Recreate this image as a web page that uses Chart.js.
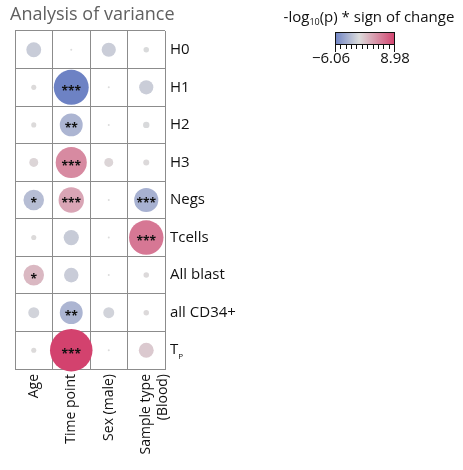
<!DOCTYPE html>
<html><head><meta charset="utf-8">
<script src="https://cdn.jsdelivr.net/npm/chart.js@4"></script>
<style>html,body{margin:0;padding:0;background:#fff}#wrap{width:463px;height:470px}</style>
</head><body><div id="wrap"><canvas id="c" width="463" height="470"></canvas></div>
<script>
// ---- data ----
const rowLabels = ['H0','H1','H2','H3','Negs','Tcells','All blast','all CD34+','T_P'];
const colLabels = ['Age','Time point','Sex (male)','Sample type (Blood)'];
const colTickLines = [['Age'],['Time point'],['Sex (male)'],['Sample type','(Blood)']];
const ageValues    = [-1.1, 0.13, 0.13, 0.4, -2.1, 0.13, 2.1, -0.6, 0.13];
const timeValues   = [0.02, -6.06, -2.6, 4.8, 3.2, -1.15, -1.05, -2.6, 8.98];
const sexValues    = [-1.0, 0.02, 0.02, 0.4, 0.02, 0.02, 0.02, -0.6, 0.02];
const sampleValues = [-0.15, -1.0, -0.2, 0.18, -2.9, 5.9, 0.15, 0.15, 1.1];
const ageStars    = ['','','','','*','','*','',''];
const timeStars   = ['','***','**','***','***','','','**','***'];
const sexStars    = ['','','','','','','','',''];
const sampleStars = ['','','','','***','***','','',''];
const scaleMin = -6.06, scaleMax = 8.98;
const legendTitle = '-log';
const legendTickLabels = ['\u22126.06','8.98'];

const columns = [ageValues, timeValues, sexValues, sampleValues];
const starCols = [ageStars, timeStars, sexStars, sampleStars];

const FONT = "'Open Sans', 'Noto Sans', sans-serif";
const BLUE = [109,130,196], GREY = [220,220,220], RED = [211,66,110];
function mix(a,b,t){return a.map((v,i)=>Math.round(v+(b[i]-v)*t));}
function colorFor(v){
  let c = v < 0 ? mix(GREY, BLUE, Math.min(1, v/scaleMin)) : mix(GREY, RED, Math.min(1, v/scaleMax));
  return 'rgb('+c.join(',')+')';
}

const points = [];
columns.forEach((vals, j) => vals.forEach((v, i) => points.push({x: colLabels[j], y: rowLabels[i], v: v, s: starCols[j][i]})));

const noPad = () => ({left: 0, top: 0, right: 0, bottom: 0});

const extras = {
  id: 'extras',
  afterDraw(chart) {
    const ctx = chart.ctx;
    ctx.save();
    // title
    ctx.fillStyle = '#606060';
    ctx.font = '18px ' + FONT;
    ctx.textAlign = 'left'; ctx.textBaseline = 'alphabetic';
    ctx.fillText('Analysis of variance', 10, 20);
    // stars
    const meta = chart.getDatasetMeta(0);
    ctx.fillStyle = '#111';
    ctx.font = 'bold 12px ' + FONT;
    ctx.textAlign = 'center'; ctx.textBaseline = 'middle';
    meta.data.forEach((el, k) => {
      const s = points[k].s;
      if (s) ctx.fillText(s, el.x, el.y + 4);
    });
    // subscript for T_P
    const ys = chart.scales.y;
    const tpIdx = rowLabels.indexOf('T_P');
    const yp = ys.getPixelForValue(tpIdx);
    ctx.font = '15px ' + FONT;
    const tw = ctx.measureText('T').width;
    ctx.font = '8px ' + FONT;
    ctx.textAlign = 'left'; ctx.textBaseline = 'alphabetic';
    ctx.fillText('P', chart.chartArea.right + 5 + tw, yp + 9);
    // legend
    const lx0 = 335, lx1 = 395, ly0 = 32, ly1 = 45;
    const g = ctx.createLinearGradient(lx0, 0, lx1, 0);
    const zero = -scaleMin / (scaleMax - scaleMin);
    g.addColorStop(0, colorFor(scaleMin));
    g.addColorStop(zero, colorFor(0));
    g.addColorStop(1, colorFor(scaleMax));
    ctx.fillStyle = g;
    ctx.fillRect(lx0, ly0, lx1 - lx0, ly1 - ly0);
    ctx.strokeStyle = '#111'; ctx.lineWidth = 1;
    ctx.strokeRect(lx0 + 0.5, ly0 + 0.5, lx1 - lx0 - 1, ly1 - ly0 - 1);
    const nT = 11;
    for (let k = 0; k <= nT; k++) {
      const x = Math.round(lx0 + (lx1 - lx0 - 1) * k / nT) + 0.5;
      const len = (k === 0 || k === nT) ? 6 : 3;
      ctx.beginPath(); ctx.moveTo(x, ly1); ctx.lineTo(x, ly1 + len + 1); ctx.stroke();
    }
    ctx.fillStyle = '#111';
    ctx.font = '15px ' + FONT;
    ctx.textAlign = 'center'; ctx.textBaseline = 'alphabetic';
    ctx.fillText(legendTickLabels[0], lx0 - 4, 63);
    ctx.fillText(legendTickLabels[1], lx1, 63);
    // legend title with subscript
    ctx.font = '15px ' + FONT;
    const p1 = legendTitle, p2 = '10', p3 = '(p) * sign of change';
    const w1 = ctx.measureText(p1).width, w3 = ctx.measureText(p3).width;
    ctx.font = '9px ' + FONT;
    const w2 = ctx.measureText(p2).width;
    const total = w1 + w2 + w3;
    let x = 369 - total / 2;
    ctx.textAlign = 'left';
    ctx.font = '15px ' + FONT; ctx.fillText(p1, x, 22); x += w1;
    ctx.font = '9px ' + FONT; ctx.fillText(p2, x, 25); x += w2;
    ctx.font = '15px ' + FONT; ctx.fillText(p3, x, 22);
    ctx.restore();
  }
};

new Chart(document.getElementById('c'), {
  type: 'bubble',
  data: {
    datasets: [{
      data: points,
      clip: false,
      borderWidth: 0,
      radius: (c) => {
        const p = c.raw; if (!p) return 0;
        const xs = c.chart.scales.x;
        const cell = Math.abs(xs.getPixelForValue(1) - xs.getPixelForValue(0)) || 37.5;
        return Math.max(1, cell * 0.567 * Math.sqrt(Math.abs(p.v) / scaleMax));
      },
      backgroundColor: (c) => c.raw ? colorFor(c.raw.v) : '#ccc',
      hoverRadius: 0
    }]
  },
  options: {
    responsive: false,
    animation: false,
    events: [],
    layout: {autoPadding: false, padding: {left: 15, top: 31, right: 0, bottom: 0}},
    plugins: {legend: {display: false}, tooltip: {enabled: false}},
    scales: {
      x: {
        type: 'category', labels: colLabels, offset: true, position: 'bottom',
        grid: {offset: true, color: '#8c8c8c', drawTicks: false, lineWidth: 1},
        border: {color: '#8c8c8c'},
        ticks: {
          color: '#111', font: {family: FONT, size: 14}, padding: 5,
          minRotation: 90, maxRotation: 90, autoSkip: false,
          callback: (val, i) => colTickLines[i]
        },
        afterFit: (s) => { s.height = 101; s.paddingLeft = 0; s.paddingRight = 0; s.getPadding = noPad; }
      },
      y: {
        type: 'category', labels: rowLabels, offset: true, position: 'right',
        grid: {offset: true, color: '#8c8c8c', drawTicks: false, lineWidth: 1},
        border: {color: '#8c8c8c'},
        ticks: {
          color: '#111', font: {family: FONT, size: 15}, padding: 5, autoSkip: false,
          crossAlign: 'near',
          callback: (val, i) => rowLabels[i] === 'T_P' ? 'T' : rowLabels[i]
        },
        afterFit: (s) => { s.width = 298; s.paddingTop = 0; s.paddingBottom = 0; s.getPadding = noPad; }
      }
    }
  },
  plugins: [extras]
});
</script></body></html>
